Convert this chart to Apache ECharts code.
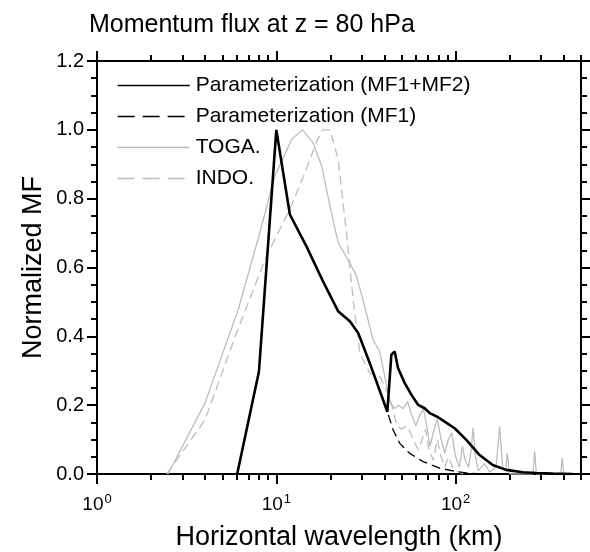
<!DOCTYPE html>
<html>
<head>
<meta charset="utf-8">
<script src="https://cdn.jsdelivr.net/npm/echarts@6/dist/echarts.min.js"></script>
<style>
html,body{margin:0;padding:0;background:#fff;}
#c{width:590px;height:552px;}
</style>
</head>
<body>
<div id="c"></div>
<script>
const titleText = 'Momentum flux at z = 80 hPa';
const xName = 'Horizontal wavelength (km)';
const yName = 'Normalized MF';
const seriesNames = ['Parameterization (MF1+MF2)', 'Parameterization (MF1)', 'TOGA.', 'INDO.'];
const xMajorTicks = [1, 10, 100];
const xMinorTicks = [2,3,4,5,6,7,8,9,20,30,40,50,60,70,80,90,200,300,400,500];
const yTicks = [0, 0.2, 0.4, 0.6, 0.8, 1.0, 1.2];

const mf12Wavelength = [6.05, 8.0, 10.0, 11.9, 14.7, 18.2, 22.1, 25.7, 28.6, 33.2, 41.6, 43.8, 45.7, 47.7, 52.0, 56.7, 61.7, 67.2, 71.7, 79.7, 86.8, 98.7, 114.7, 136, 161, 191, 237, 281, 350, 450];
const mf12Values = [0, 0.298, 1.0, 0.754, 0.662, 0.560, 0.473, 0.444, 0.410, 0.322, 0.181, 0.347, 0.356, 0.308, 0.264, 0.230, 0.201, 0.191, 0.177, 0.165, 0.152, 0.133, 0.099, 0.055, 0.026, 0.012, 0.005, 0.003, 0.001, 0];

const mf1Wavelength = [6.05, 8.0, 10.0, 11.9, 14.7, 18.2, 22.1, 25.7, 28.6, 33.2, 41.6, 44.8, 48.8, 55.4, 65.8, 81.5, 101, 120, 150];
const mf1Values = [0, 0.298, 1.0, 0.754, 0.662, 0.560, 0.473, 0.444, 0.410, 0.322, 0.181, 0.128, 0.089, 0.060, 0.036, 0.017, 0.007, 0.002, 0];

const togaWavelength = [2.49, 4.0, 6.13, 8.09, 9.81, 12.2, 14.0, 16.0, 17.9, 19.9, 22.1, 25.1, 28.0, 31.1, 34.6, 37.7, 41.1, 43, 45.7, 48, 51, 54, 57, 60, 63, 66, 69, 72, 75, 79, 83, 87, 91, 95, 100, 105, 109, 113, 118, 122, 125, 129, 134, 145, 155, 168, 176, 183, 190, 194, 200, 270, 276, 282, 385, 393, 400];
const togaValues = [0, 0.206, 0.478, 0.701, 0.866, 0.973, 1.0, 0.963, 0.895, 0.779, 0.672, 0.623, 0.575, 0.487, 0.39, 0.356, 0.26, 0.21, 0.19, 0.2, 0.19, 0.21, 0.17, 0.14, 0.17, 0.19, 0.14, 0.08, 0.12, 0.16, 0.1, 0.06, 0.1, 0.12, 0.05, 0.02, 0.08, 0.04, 0.02, 0.07, 0.134, 0.05, 0.01, 0.03, 0.005, 0.02, 0.138, 0.02, 0.01, 0.06, 0, 0, 0.065, 0, 0, 0.047, 0];

const indoWavelength = [2.45, 4.0, 6.0, 8.8, 11.9, 14.7, 16.7, 18.1, 19.9, 22.1, 24.6, 26.8, 29.2, 33.2, 37.7, 41.1, 44, 47, 50, 53, 56, 59, 62, 65, 68, 71, 75, 79, 83, 87, 91, 96, 100, 110];
const indoValues = [0, 0.157, 0.41, 0.633, 0.769, 0.886, 0.963, 1.0, 1.0, 0.915, 0.701, 0.507, 0.352, 0.293, 0.283, 0.245, 0.2, 0.14, 0.13, 0.14, 0.12, 0.09, 0.07, 0.1, 0.13, 0.07, 0.04, 0.1, 0.05, 0.02, 0.05, 0.02, 0.01, 0];

function pairs(xs, ys){ return xs.map((x,i)=>[x, ys[i]]); }

const FONT = '"Liberation Sans", Arial, Helvetica, sans-serif';
const GRAY = '#bdbdbd';

const chart = echarts.init(document.getElementById('c'), null, {renderer:'canvas'});

const xCommon = {type:'log', logBase:10, min:1, max:500, splitLine:{show:false}, minorTick:{show:false}, minorSplitLine:{show:false}, gridIndex:0};

const option = {
  backgroundColor:'#fff',
  animation:false,
  title:{text:titleText, left:84, top:8, textStyle:{fontFamily:FONT, fontSize:25, fontWeight:'normal', color:'#000'}},
  grid:{left:97, right:9, top:61, bottom:78, containLabel:false, outerBoundsMode:'none'},
  legend:{
    orient:'vertical', left:112, top:70, itemWidth:72, itemHeight:14, itemGap:10,
    textStyle:{fontFamily:FONT, fontSize:21, color:'#000', padding:[0,0,0,1]},
    itemStyle:{opacity:0},
    lineStyle:{width:1.3, opacity:1},
    data:[
      {name:seriesNames[0]},
      {name:seriesNames[1], lineStyle:{type:[17,8]}},
      {name:seriesNames[2]},
      {name:seriesNames[3], lineStyle:{type:[17,8]}}
    ]
  },
  xAxis:[
    Object.assign({}, xCommon, {
      position:'bottom',
      axisLine:{show:true, lineStyle:{color:'#000', width:2}},
      axisTick:{show:true, customValues:xMajorTicks, length:10, lineStyle:{color:'#000', width:2}},
      axisLabel:{show:true, customValues:xMajorTicks, margin:19, color:'#000', fontFamily:FONT,
        formatter:function(v){ return '{b|10}{s|' + Math.round(Math.log10(v)) + '}'; },
        rich:{b:{fontSize:19, fontFamily:FONT, color:'#000'}, s:{fontSize:13, fontFamily:FONT, color:'#000', verticalAlign:'top', padding:[0,0,10,1]}}},
      name:xName, nameLocation:'middle', nameGap:50,
      nameTextStyle:{fontFamily:FONT, fontSize:27, color:'#000'}
    }),
    Object.assign({}, xCommon, {
      position:'bottom',
      axisLine:{show:false},
      axisTick:{show:true, customValues:xMinorTicks, length:6, lineStyle:{color:'#000', width:2}},
      axisLabel:{show:false}
    }),
    Object.assign({}, xCommon, {
      position:'top',
      axisLine:{show:true, lineStyle:{color:'#000', width:2}},
      axisTick:{show:true, customValues:xMajorTicks, length:10, lineStyle:{color:'#000', width:2}},
      axisLabel:{show:false}
    }),
    Object.assign({}, xCommon, {
      position:'top',
      axisLine:{show:false},
      axisTick:{show:true, customValues:xMinorTicks, length:6, lineStyle:{color:'#000', width:2}},
      axisLabel:{show:false}
    })
  ],
  yAxis:[
    {type:'value', position:'left', min:0, max:1.2, interval:0.2, splitLine:{show:false},
      axisLine:{show:true, lineStyle:{color:'#000', width:2}},
      axisTick:{show:true, length:10, lineStyle:{color:'#000', width:2}},
      minorTick:{show:true, splitNumber:4, length:6, lineStyle:{color:'#000', width:2}},
      axisLabel:{color:'#000', fontFamily:FONT, fontSize:20, margin:13, formatter:function(v){return v.toFixed(1);}},
      name:yName, nameLocation:'middle', nameGap:50, nameRotate:90, nameMoveOverlap:false,
      nameTextStyle:{fontFamily:FONT, fontSize:27, color:'#000'}},
    {type:'value', position:'right', min:0, max:1.2, interval:0.2, splitLine:{show:false},
      axisLine:{show:true, lineStyle:{color:'#000', width:2}},
      axisTick:{show:true, length:10, lineStyle:{color:'#000', width:2}},
      minorTick:{show:true, splitNumber:4, length:6, lineStyle:{color:'#000', width:2}},
      axisLabel:{show:false}}
  ],
  series:[
    {name:seriesNames[2], type:'line', xAxisIndex:0, yAxisIndex:0, data:pairs(togaWavelength, togaValues), symbol:'none', showSymbol:false, lineStyle:{color:GRAY, width:1.3}, itemStyle:{color:GRAY}, z:2},
    {name:seriesNames[3], type:'line', xAxisIndex:0, yAxisIndex:0, data:pairs(indoWavelength, indoValues), symbol:'none', showSymbol:false, lineStyle:{color:GRAY, width:1.3, type:[9,5]}, itemStyle:{color:GRAY}, z:2},
    {name:seriesNames[1], type:'line', xAxisIndex:0, yAxisIndex:0, data:pairs(mf1Wavelength, mf1Values), symbol:'none', showSymbol:false, lineStyle:{color:'#000', width:1.3, type:[9,5]}, itemStyle:{color:'#000'}, z:3},
    {name:seriesNames[0], type:'line', xAxisIndex:0, yAxisIndex:0, data:pairs(mf12Wavelength, mf12Values), symbol:'none', showSymbol:false, lineStyle:{color:'#000', width:2.6}, itemStyle:{color:'#000'}, z:4}
  ]
};
chart.setOption(option);
</script>
</body>
</html>
